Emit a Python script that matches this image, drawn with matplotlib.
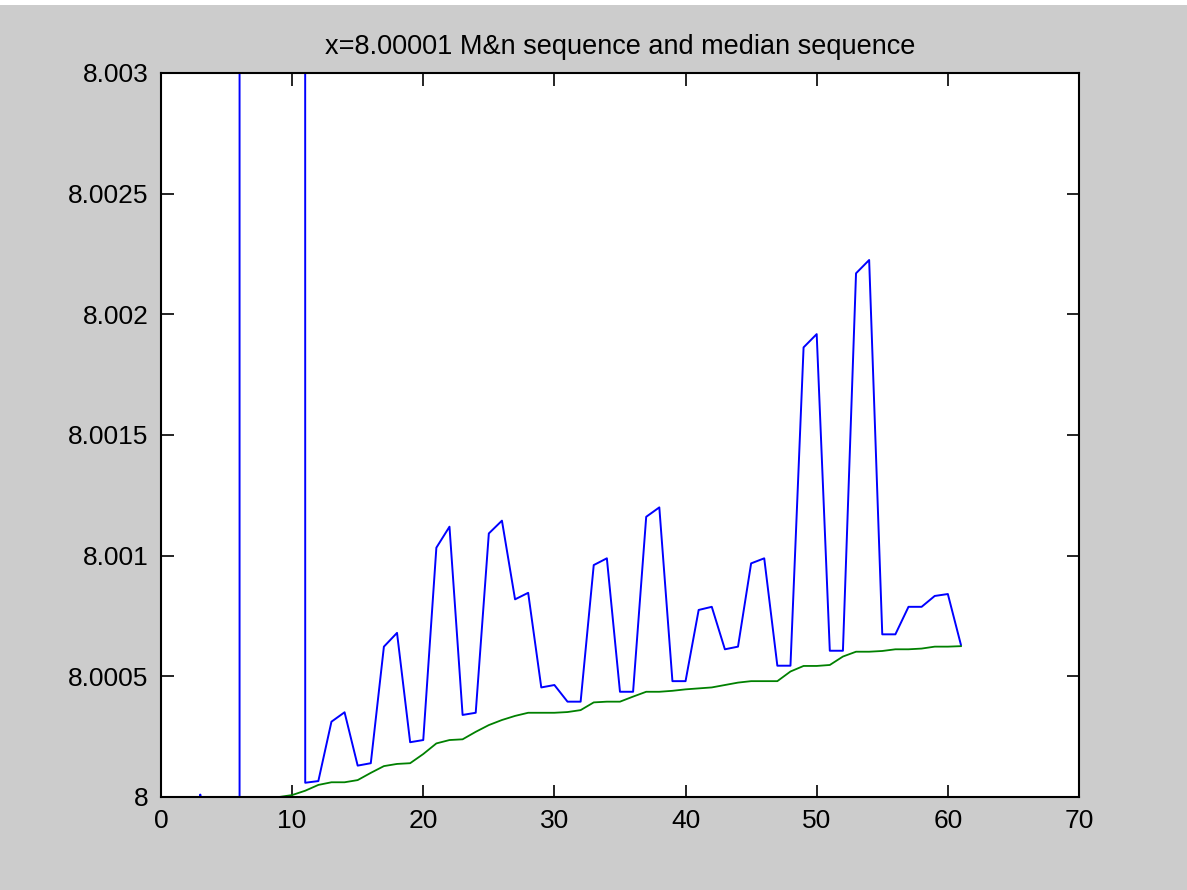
import numpy as np
import matplotlib.pyplot as plt
from matplotlib.patches import Rectangle

# M&n sequence (blue), n = 1..61; early terms fall outside the plotted window
mn_index = np.arange(1, 62)
mn_values = [
    0.0, 0.0, 8.00001, 0.0, 0.0, 8.05, 8.2, 8.5, 8.8, 9.0,
    8.000059, 8.000066, 8.000312, 8.000351, 8.00013, 8.00014, 8.000623, 8.00068, 8.000227, 8.000236,
    8.001033, 8.00112, 8.00034, 8.000349, 8.001092, 8.001145, 8.000819, 8.000846, 8.000454, 8.000464,
    8.000395, 8.000395, 8.000961, 8.000989, 8.000436, 8.000436, 8.001161, 8.0012, 8.00048, 8.00048,
    8.000775, 8.000788, 8.000612, 8.000623, 8.000968, 8.000989, 8.000544, 8.000544, 8.001863, 8.001918,
    8.000606, 8.000606, 8.00217, 8.002225, 8.000674, 8.000674, 8.000788, 8.000788, 8.000833, 8.000841,
    8.00063,
]

# median sequence (green), n = 9..61
med_index = np.arange(9, 62)
med_values = [
    8.0, 8.000008, 8.000026, 8.00005, 8.000061, 8.000061, 8.00007, 8.0001, 8.000128, 8.000137,
    8.00014, 8.000178, 8.000222, 8.000236, 8.000239, 8.00027, 8.000298, 8.000319, 8.000336, 8.000349,
    8.000349, 8.000349, 8.000352, 8.00036, 8.000392, 8.000395, 8.000395, 8.000416, 8.000436, 8.000436,
    8.00044, 8.000446, 8.00045, 8.000454, 8.000464, 8.000474, 8.00048, 8.00048, 8.00048, 8.00052,
    8.000543, 8.000543, 8.000547, 8.000582, 8.000602, 8.000602, 8.000605, 8.000612, 8.000612, 8.000615,
    8.000623, 8.000623, 8.000625,
]

x_ticks = [0, 10, 20, 30, 40, 50, 60, 70]
y_ticks = [8, 8.0005, 8.001, 8.0015, 8.002, 8.0025, 8.003]
y_labels = ["8", "8.0005", "8.001", "8.0015", "8.002", "8.0025", "8.003"]

plt.rcParams["font.family"] = ["Liberation Sans", "DejaVu Sans"]

fig = plt.figure(figsize=(11.87, 8.90), dpi=100, facecolor="#cccccc")
# thin white strip along the top edge of the screenshot
fig.patches.append(Rectangle((0, 0.994), 1, 0.006, transform=fig.transFigure,
                             facecolor="white", edgecolor="none", zorder=-1))
ax = fig.add_axes([0.1356, 0.1045, 0.7734, 0.8135])

ax.plot(mn_index, mn_values, color="#0000ff", lw=1.4)
ax.plot(med_index, med_values, color="#008000", lw=1.3)

ax.set_xlim(0, 70)
ax.set_ylim(8, 8.003)
ax.set_xticks(x_ticks)
ax.set_yticks(y_ticks)
ax.set_yticklabels(y_labels)
ax.tick_params(direction="in", length=9, width=1.2, labelsize=19, pad=9,
               top=True, right=True, colors="black")
for s in ax.spines.values():
    s.set_linewidth(1.5)

ax.set_title("x=8.00001 M&n sequence and median sequence", fontsize=19.5, pad=14)

fig.savefig("out.png", dpi=100, facecolor=fig.get_facecolor())
